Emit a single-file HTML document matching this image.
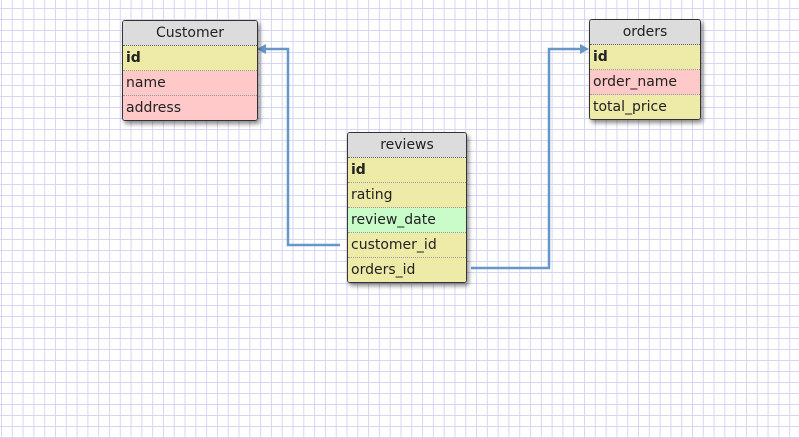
<!DOCTYPE html>
<html><head><style>
body{margin:0;width:799px;height:438px;overflow:hidden;background:#fff;
background-image:linear-gradient(to right,#d6d6f2 1px,transparent 1px),linear-gradient(to bottom,#d6d6f2 1px,transparent 1px);
background-size:10.8px 11px;background-position:1px 8px;font-family:"DejaVu Sans","Liberation Sans",sans-serif;}
.t{position:absolute;border:1px solid #333;border-radius:3px;box-shadow:2px 3px 4px rgba(0,0,0,.45);overflow:hidden;font-size:14px;color:#222}
.h{background:#dcdcdc;text-align:center;height:24px;line-height:25px;border-bottom:1px dotted #666}
.r{height:24px;line-height:25px;padding-left:3px;border-bottom:1px dotted #999}
.r:last-child{border-bottom:none}
.y{background:#eeeaa8}.p{background:#ffc9c9}.g{background:#c9fcc9}
.b{font-weight:bold}
</style></head><body>
<svg width="799" height="438" style="position:absolute;left:0;top:0">
<g fill="none" stroke="#6797c8" stroke-width="2.5">
<polyline points="340,245 288,245 288,49 262,49"/>
<polyline points="471,268 549,268 549,49 583,49"/>
</g>
<polygon points="257,49 266,44 266,54" fill="#6797c8"/>
<polygon points="589,49 580,44 580,54" fill="#6797c8"/>
</svg>
<div class="t" style="left:122px;top:20px;width:134px">
<div class="h">Customer</div><div class="r y b">id</div><div class="r p">name</div><div class="r p">address</div></div>
<div class="t" style="left:347px;top:132px;width:118px">
<div class="h">reviews</div><div class="r y b">id</div><div class="r y">rating</div><div class="r g">review_date</div><div class="r y">customer_id</div><div class="r y">orders_id</div></div>
<div class="t" style="left:589px;top:19px;width:110px">
<div class="h">orders</div><div class="r y b">id</div><div class="r p">order_name</div><div class="r y">total_price</div></div>
</body></html>
